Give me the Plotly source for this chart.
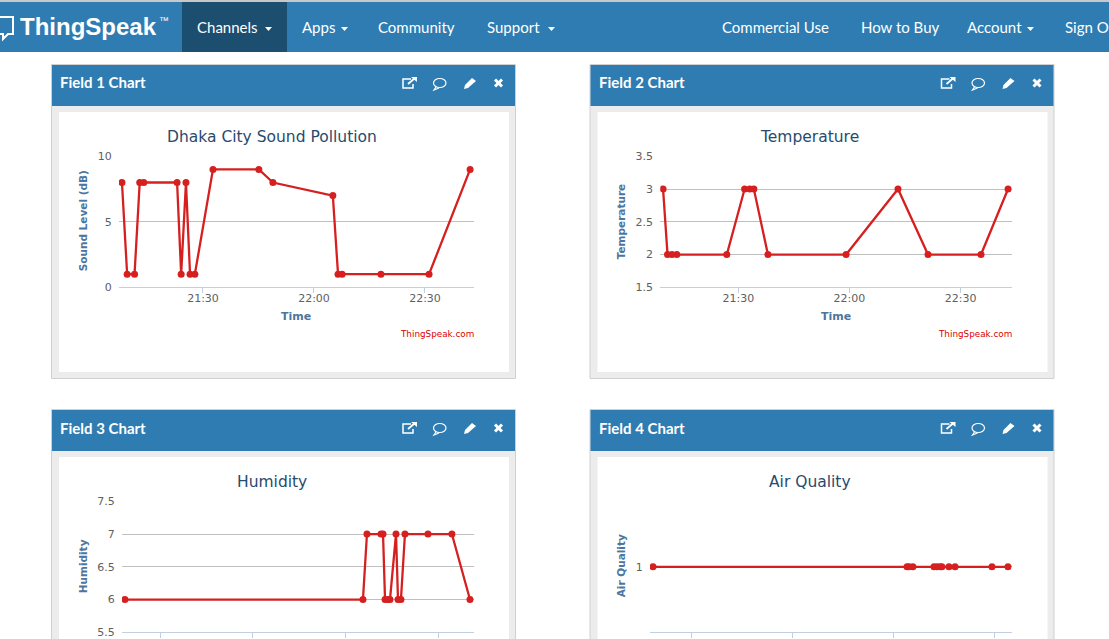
import plotly.graph_objects as go
from plotly.subplots import make_subplots

DAY = "2019-03-01 "
WIDTH = 1109
HEIGHT = 639

field1_times = ["21:08:06", "21:09:30", "21:11:30", "21:12:54", "21:14:00", "21:23:00", "21:24:06",
                "21:25:24", "21:26:30", "21:27:48", "21:32:42", "21:45:06", "21:48:54", "22:05:06",
                "22:06:30", "22:07:36", "22:18:06", "22:31:06", "22:42:12"]
field1_values = [8, 1, 1, 8, 8, 8, 1, 8, 1, 1, 9, 9, 8, 7, 1, 1, 1, 1, 9]

field2_times = ["21:09:42", "21:10:54", "21:12:06", "21:13:24", "21:26:54", "21:31:42", "21:33:06",
                "21:34:12", "21:38:00", "21:59:06", "22:13:06", "22:21:12", "22:35:30", "22:42:48"]
field2_values = [3, 2, 2, 2, 2, 3, 3, 3, 2, 2, 3, 2, 2, 3]

field3_times = ["18:37:06", "21:11:12", "21:13:48", "21:22:54", "21:24:12", "21:25:30", "21:27:24",
                "21:28:42", "21:32:36", "21:33:54", "21:35:48", "21:38:24", "21:53:18", "22:08:48",
                "22:20:30"]
field3_values = [6, 6, 7, 7, 7, 6, 6, 6, 7, 6, 6, 7, 7, 7, 6]

field4_times = ["18:37:18", "21:08:00", "21:09:12", "21:11:30", "21:24:00", "21:25:48", "21:27:36",
                "21:28:42", "21:32:54", "21:36:30", "21:58:24", "22:07:54"]
field4_values = [1, 1, 1, 1, 1, 1, 1, 1, 1, 1, 1, 1]

nav_left = ["Channels", "Apps", "Community", "Support"]
nav_right = ["Commercial Use", "How to Buy", "Account", "Sign Out"]


def to_x(x):
    return x / WIDTH


def to_y(y):
    return 1 - y / HEIGHT


def paper_path(points, close=False):
    path = "M " + " L ".join(f"{to_x(x):.5f} {to_y(y):.5f}" for x, y in points)
    return path + " Z" if close else path


def box(fig, x0, y0, x1, y1, fill, line=None):
    fig.add_shape(type="rect", xref="paper", yref="paper", x0=to_x(x0), x1=to_x(x1), y0=to_y(y0), y1=to_y(y1),
                  fillcolor=fill, line=dict(color=line or fill, width=1 if line else 0), layer="below")


def label(fig, x, y, text, size, color, font="DejaVu Sans", anchor="center", angle=0):
    fig.add_annotation(xref="paper", yref="paper", x=to_x(x), y=to_y(y), text=text, showarrow=False,
                       xanchor=anchor, yanchor="middle", textangle=angle, font=dict(size=size, color=color, family=font))


def caret(fig, x):
    fig.add_shape(type="path", xref="paper", yref="paper", fillcolor="white", line=dict(color="white", width=0),
                  path=paper_path([(x, 27), (x + 7, 27), (x + 3.5, 31)], close=True))


def icons(fig, dx, dy):
    # external link
    fig.add_shape(type="path", xref="paper", yref="paper", line=dict(color="white", width=1.5),
                  path=paper_path([(411 + dx, 79 + dy), (403 + dx, 79 + dy), (403 + dx, 88 + dy),
                                   (413 + dx, 88 + dy), (413 + dx, 84 + dy)]))
    fig.add_shape(type="path", xref="paper", yref="paper", line=dict(color="white", width=1.8),
                  path=paper_path([(408 + dx, 84 + dy), (415 + dx, 78 + dy)]))
    fig.add_shape(type="path", xref="paper", yref="paper", fillcolor="white", line=dict(color="white", width=0),
                  path=paper_path([(411 + dx, 77 + dy), (417 + dx, 77 + dy), (417 + dx, 82 + dy)], close=True))
    # comment
    fig.add_shape(type="circle", xref="paper", yref="paper", line=dict(color="white", width=1.2),
                  x0=to_x(433.5 + dx), x1=to_x(446 + dx), y0=to_y(78.5 + dy), y1=to_y(87.5 + dy))
    fig.add_shape(type="path", xref="paper", yref="paper", line=dict(color="white", width=1.2),
                  path=paper_path([(436 + dx, 87 + dy), (434 + dx, 90 + dy), (439 + dx, 88 + dy)]))
    # pencil
    fig.add_shape(type="path", xref="paper", yref="paper", fillcolor="white", line=dict(color="white", width=0),
                  path=paper_path([(464 + dx, 89 + dy), (465 + dx, 85 + dy), (472 + dx, 78 + dy), (476 + dx, 81 + dy),
                                   (468 + dx, 88 + dy)], close=True))
    # close
    fig.add_shape(type="path", xref="paper", yref="paper", line=dict(color="white", width=3),
                  path=paper_path([(495 + dx, 79.5 + dy), (502 + dx, 86.5 + dy)]))
    fig.add_shape(type="path", xref="paper", yref="paper", line=dict(color="white", width=3),
                  path=paper_path([(502 + dx, 79.5 + dy), (495 + dx, 86.5 + dy)]))


def panel(fig, name, dx, dy):
    box(fig, 51.5 + dx, 64.5 + dy, 515.5 + dx, 378.5 + dy, "#ececec", "#d0d0d0")
    box(fig, 52 + dx, 65 + dy, 515 + dx, 106 + dy, "#2e7cb1")
    box(fig, 59 + dx, 112 + dy, 509 + dx, 372 + dy, "white")
    label(fig, 58 + dx, 82.5 + dy, name, 15, "white", "Lato", "left")
    icons(fig, dx, dy)


def chart(fig, row, col, times, values, title, ytitle, xspan, yspan, xrange, yrange, dtick, ticks):
    fig.add_trace(go.Scatter(x=[DAY + t for t in times], y=values, mode="lines+markers",
                             line=dict(color="#d62020", width=2.3), marker=dict(color="#d62020", size=7)),
                  row=row, col=col)
    fig.update_xaxes(domain=[to_x(xspan[0]), to_x(xspan[1])], range=[DAY + xrange[0], DAY + xrange[1]],
                     dtick=dtick, tick0=DAY + "00:00:00", tickformat="%H:%M", showgrid=False, showline=True,
                     linecolor="#c0d0e0", linewidth=1, ticks="outside", ticklen=5, tickcolor="#c0d0e0",
                     ticklabelstandoff=-5, ticklabeloverflow="allow",
                     tickfont=dict(size=11, color="#606060", family="DejaVu Sans"), row=row, col=col)
    fig.update_yaxes(domain=[to_y(yspan[1]), to_y(yspan[0])], range=yrange, tickvals=ticks, showline=False,
                     zeroline=False, gridcolor="#c0c0c0", gridwidth=1, ticks="outside", ticklen=4,
                     tickcolor="rgba(0,0,0,0)", ticklabeloverflow="allow",
                     tickfont=dict(size=11, color="#606060", family="DejaVu Sans"), row=row, col=col)
    centre = 272 if col == 1 else 809.5
    label(fig, centre, yspan[0] - 19.5, title, 15.5, "#274b6d")
    label(fig, 83 if col == 1 else 621, (yspan[0] + yspan[1]) / 2 - 0.5, "<b>" + ytitle + "</b>", 10.5, "#4d759e", angle=-90)
    if row == 1:  # the lower two run off the bottom of the page
        label(fig, 296 if col == 1 else 836, 316.5, "<b>Time</b>", 11, "#4d759e")
        label(fig, xspan[1] + 2, 334, "ThingSpeak.com", 8.8, "#dd0000", anchor="right")


fig = make_subplots(rows=2, cols=2)

# Page furniture
box(fig, 0, 0, WIDTH, 2, "#c8c8c8")
box(fig, 0, 2, WIDTH, 52, "#2e7cb1")
box(fig, 182, 2, 287, 52, "#1c4e70")
fig.add_shape(type="path", xref="paper", yref="paper", line=dict(color="white", width=2),
              path=paper_path([(-2, 17), (13, 17), (13, 34), (8, 34), (3, 39), (3, 34), (-2, 34)]))
label(fig, 18, 26, "<b>ThingSpeak</b>", 24, "white", "Liberation Sans", "left")
label(fig, 157.5, 20, "™", 10, "white", "Liberation Sans", "left")
for text, x in zip(nav_left, [195, 300, 376, 485]):
    label(fig, x, 27.5, text, 15, "white", "Lato", "left")
for text, x in zip(nav_right, [720, 859, 965, 1063]):
    label(fig, x, 27.5, text, 15, "white", "Lato", "left")
for x in [265, 341, 548, 1027]:
    caret(fig, x)

panel(fig, "<b>Field 1 Chart</b>", 0, 0)
panel(fig, "<b>Field 2 Chart</b>", 538.5, 0)
panel(fig, "<b>Field 3 Chart</b>", 0, 345)
panel(fig, "<b>Field 4 Chart</b>", 538.5, 345)

chart(fig, 1, 1, field1_times, field1_values, "Dhaka City Sound Pollution", "Sound Level (dB)",
      (119, 474), (156.3, 287.3), ("21:07:18", "22:43:15"), [0, 10], 1800000, [0, 5, 10])
chart(fig, 1, 2, field2_times, field2_values, "Temperature", "Temperature",
      (660.3, 1012), (156.3, 287.3), ("21:08:57", "22:43:52"), [1.5, 3.5], 1800000, [1.5, 2, 2.5, 3, 3.5])
chart(fig, 2, 1, field3_times, field3_values, "Humidity", "Humidity",
      (122, 474), (501.3, 632.3), ("18:35:12", "22:23:06"), [5.5, 7.5], 3600000, [5.5, 6, 6.5, 7, 7.5])
chart(fig, 2, 2, field4_times, field4_values, "Air Quality", "Air Quality",
      (650, 1012), (501.3, 632.3), ("18:35:30", "22:10:18"), [0.5, 1.5], 3600000, [1])

fig.update_layout(width=WIDTH, height=HEIGHT, margin=dict(l=0, r=0, t=0, b=0, autoexpand=False), showlegend=False,
                  paper_bgcolor="white", plot_bgcolor="rgba(0,0,0,0)")

fig.write_html("out.html", config={"displayModeBar": False},
               post_script="document.body.style.margin='0'; document.body.style.overflow='hidden';")
